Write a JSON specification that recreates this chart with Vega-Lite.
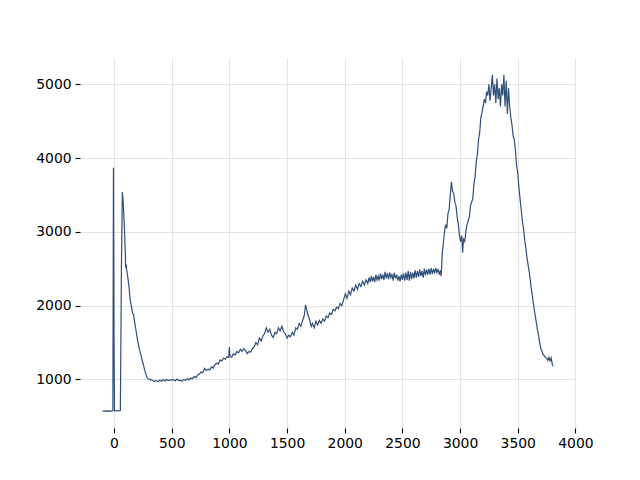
{
  "$schema": "https://vega.github.io/schema/vega-lite/v6.json",
  "autosize": "none",
  "width": 496,
  "height": 370,
  "padding": {"left": 80, "top": 58, "right": 64, "bottom": 52},
  "background": "white",
  "config": {
    "view": {"stroke": null},
    "axis": {
      "domain": false,
      "grid": true,
      "gridColor": "#e3e3e3",
      "gridWidth": 1.1,
      "tickColor": "#000000",
      "tickSize": 4.9,
      "tickWidth": 1.1,
      "labelFont": "DejaVu Sans",
      "labelFontSize": 13.9,
      "labelColor": "#000000",
      "labelPadding": 4,
      "labelFlush": false,
      "labelOverlap": false,
      "title": null
    }
  },
  "data": {"values": [
    {"x": -100, "y": 572}, {"x": -60, "y": 573}, {"x": -20, "y": 572}, {"x": -10, "y": 578},
    {"x": -5, "y": 3870}, {"x": 0, "y": 1500}, {"x": 4, "y": 578}, {"x": 30, "y": 575}, {"x": 55, "y": 580},
    {"x": 64, "y": 2500}, {"x": 72, "y": 3540}, {"x": 80, "y": 3400}, {"x": 90, "y": 3050}, {"x": 98, "y": 2700},
    {"x": 101, "y": 2514}, {"x": 105, "y": 2560}, {"x": 110, "y": 2480}, {"x": 120, "y": 2380}, {"x": 130, "y": 2250},
    {"x": 140, "y": 2080}, {"x": 150, "y": 2000}, {"x": 160, "y": 1900}, {"x": 170, "y": 1880}, {"x": 176, "y": 1800},
    {"x": 185, "y": 1720}, {"x": 195, "y": 1620}, {"x": 205, "y": 1520}, {"x": 215, "y": 1450}, {"x": 225, "y": 1380},
    {"x": 235, "y": 1320}, {"x": 245, "y": 1250}, {"x": 255, "y": 1200}, {"x": 265, "y": 1130}, {"x": 275, "y": 1080},
    {"x": 285, "y": 1030}, {"x": 295, "y": 1010}, {"x": 305, "y": 1005}, {"x": 320, "y": 995}, {"x": 335, "y": 985},
    {"x": 350, "y": 975}, {"x": 365, "y": 985}, {"x": 380, "y": 968}, {"x": 395, "y": 990}, {"x": 410, "y": 975},
    {"x": 425, "y": 995}, {"x": 440, "y": 980}, {"x": 455, "y": 1000}, {"x": 470, "y": 985}, {"x": 485, "y": 995},
    {"x": 500, "y": 990}, {"x": 515, "y": 1000}, {"x": 530, "y": 980}, {"x": 545, "y": 1005}, {"x": 560, "y": 985},
    {"x": 575, "y": 990}, {"x": 590, "y": 975}, {"x": 605, "y": 1000}, {"x": 620, "y": 990}, {"x": 635, "y": 1010},
    {"x": 650, "y": 995}, {"x": 665, "y": 1020}, {"x": 680, "y": 1010}, {"x": 695, "y": 1040}, {"x": 710, "y": 1025},
    {"x": 725, "y": 1060}, {"x": 740, "y": 1075}, {"x": 755, "y": 1100}, {"x": 770, "y": 1090}, {"x": 785, "y": 1150},
    {"x": 800, "y": 1120}, {"x": 815, "y": 1140}, {"x": 830, "y": 1130}, {"x": 845, "y": 1170}, {"x": 860, "y": 1155},
    {"x": 875, "y": 1200}, {"x": 890, "y": 1220}, {"x": 905, "y": 1210}, {"x": 920, "y": 1265}, {"x": 935, "y": 1250},
    {"x": 950, "y": 1290}, {"x": 965, "y": 1275}, {"x": 980, "y": 1310}, {"x": 995, "y": 1300}, {"x": 1000, "y": 1440},
    {"x": 1005, "y": 1320}, {"x": 1020, "y": 1300}, {"x": 1035, "y": 1350}, {"x": 1050, "y": 1330}, {"x": 1065, "y": 1380},
    {"x": 1080, "y": 1360}, {"x": 1095, "y": 1410}, {"x": 1110, "y": 1380}, {"x": 1125, "y": 1420}, {"x": 1140, "y": 1390},
    {"x": 1155, "y": 1350}, {"x": 1170, "y": 1380}, {"x": 1185, "y": 1370}, {"x": 1200, "y": 1420}, {"x": 1215, "y": 1440},
    {"x": 1230, "y": 1500}, {"x": 1245, "y": 1470}, {"x": 1260, "y": 1560}, {"x": 1275, "y": 1520}, {"x": 1290, "y": 1590},
    {"x": 1305, "y": 1620}, {"x": 1320, "y": 1700}, {"x": 1335, "y": 1640}, {"x": 1350, "y": 1680}, {"x": 1365, "y": 1600},
    {"x": 1380, "y": 1570}, {"x": 1395, "y": 1640}, {"x": 1410, "y": 1620}, {"x": 1425, "y": 1700}, {"x": 1440, "y": 1660},
    {"x": 1455, "y": 1720}, {"x": 1470, "y": 1650}, {"x": 1485, "y": 1620}, {"x": 1500, "y": 1560}, {"x": 1515, "y": 1600},
    {"x": 1530, "y": 1580}, {"x": 1545, "y": 1640}, {"x": 1560, "y": 1600}, {"x": 1575, "y": 1700}, {"x": 1590, "y": 1680},
    {"x": 1605, "y": 1760}, {"x": 1620, "y": 1720}, {"x": 1635, "y": 1800}, {"x": 1650, "y": 1870}, {"x": 1660, "y": 2010},
    {"x": 1670, "y": 1950}, {"x": 1680, "y": 1880}, {"x": 1690, "y": 1840}, {"x": 1700, "y": 1780}, {"x": 1710, "y": 1720},
    {"x": 1720, "y": 1760}, {"x": 1735, "y": 1700}, {"x": 1750, "y": 1790}, {"x": 1765, "y": 1740}, {"x": 1780, "y": 1800},
    {"x": 1795, "y": 1760}, {"x": 1810, "y": 1820}, {"x": 1825, "y": 1790}, {"x": 1840, "y": 1860}, {"x": 1855, "y": 1840},
    {"x": 1870, "y": 1900}, {"x": 1885, "y": 1880}, {"x": 1900, "y": 1950}, {"x": 1915, "y": 1930}, {"x": 1930, "y": 1980},
    {"x": 1945, "y": 1960}, {"x": 1960, "y": 2030}, {"x": 1975, "y": 2000}, {"x": 1990, "y": 2080}, {"x": 2005, "y": 2160},
    {"x": 2020, "y": 2100}, {"x": 2035, "y": 2200}, {"x": 2050, "y": 2150}, {"x": 2065, "y": 2240}, {"x": 2080, "y": 2200},
    {"x": 2095, "y": 2280}, {"x": 2110, "y": 2220}, {"x": 2125, "y": 2300}, {"x": 2140, "y": 2260}, {"x": 2155, "y": 2330},
    {"x": 2170, "y": 2280}, {"x": 2185, "y": 2350}, {"x": 2200, "y": 2300}, {"x": 2210, "y": 2380}, {"x": 2220, "y": 2320},
    {"x": 2230, "y": 2400}, {"x": 2240, "y": 2330}, {"x": 2250, "y": 2390}, {"x": 2260, "y": 2320}, {"x": 2270, "y": 2420},
    {"x": 2280, "y": 2350}, {"x": 2290, "y": 2400}, {"x": 2300, "y": 2340}, {"x": 2310, "y": 2440}, {"x": 2320, "y": 2360},
    {"x": 2330, "y": 2420}, {"x": 2340, "y": 2350}, {"x": 2350, "y": 2460}, {"x": 2360, "y": 2370}, {"x": 2370, "y": 2440},
    {"x": 2380, "y": 2360}, {"x": 2390, "y": 2450}, {"x": 2400, "y": 2380}, {"x": 2410, "y": 2430}, {"x": 2420, "y": 2340},
    {"x": 2430, "y": 2450}, {"x": 2440, "y": 2370}, {"x": 2450, "y": 2420}, {"x": 2460, "y": 2340}, {"x": 2470, "y": 2400},
    {"x": 2480, "y": 2330}, {"x": 2490, "y": 2420}, {"x": 2500, "y": 2350}, {"x": 2510, "y": 2440}, {"x": 2520, "y": 2340},
    {"x": 2530, "y": 2450}, {"x": 2540, "y": 2350}, {"x": 2550, "y": 2470}, {"x": 2560, "y": 2340}, {"x": 2570, "y": 2460},
    {"x": 2580, "y": 2360}, {"x": 2590, "y": 2450}, {"x": 2600, "y": 2370}, {"x": 2610, "y": 2480}, {"x": 2620, "y": 2380},
    {"x": 2630, "y": 2470}, {"x": 2640, "y": 2390}, {"x": 2650, "y": 2490}, {"x": 2660, "y": 2400}, {"x": 2670, "y": 2470},
    {"x": 2680, "y": 2380}, {"x": 2690, "y": 2500}, {"x": 2700, "y": 2410}, {"x": 2710, "y": 2490}, {"x": 2720, "y": 2420},
    {"x": 2730, "y": 2500}, {"x": 2740, "y": 2420}, {"x": 2750, "y": 2510}, {"x": 2760, "y": 2430}, {"x": 2770, "y": 2500},
    {"x": 2780, "y": 2440}, {"x": 2790, "y": 2510}, {"x": 2800, "y": 2450}, {"x": 2810, "y": 2500}, {"x": 2820, "y": 2420},
    {"x": 2830, "y": 2480}, {"x": 2835, "y": 2400},
    {"x": 2840, "y": 2520}, {"x": 2845, "y": 2700}, {"x": 2855, "y": 2850}, {"x": 2865, "y": 3000}, {"x": 2875, "y": 3100},
    {"x": 2885, "y": 3050}, {"x": 2895, "y": 3250}, {"x": 2905, "y": 3300}, {"x": 2915, "y": 3500}, {"x": 2925, "y": 3680},
    {"x": 2935, "y": 3550}, {"x": 2945, "y": 3520}, {"x": 2955, "y": 3400}, {"x": 2965, "y": 3350}, {"x": 2975, "y": 3200},
    {"x": 2985, "y": 3100}, {"x": 2995, "y": 2950}, {"x": 3005, "y": 2870}, {"x": 3015, "y": 2950}, {"x": 3022, "y": 2720},
    {"x": 3030, "y": 2900}, {"x": 3040, "y": 2870}, {"x": 3050, "y": 3000}, {"x": 3060, "y": 3100}, {"x": 3070, "y": 3150},
    {"x": 3080, "y": 3200}, {"x": 3090, "y": 3350}, {"x": 3100, "y": 3400}, {"x": 3110, "y": 3450}, {"x": 3120, "y": 3650},
    {"x": 3130, "y": 3750}, {"x": 3140, "y": 3950}, {"x": 3150, "y": 4050}, {"x": 3160, "y": 4250}, {"x": 3170, "y": 4350},
    {"x": 3180, "y": 4550}, {"x": 3190, "y": 4620}, {"x": 3200, "y": 4700}, {"x": 3210, "y": 4800}, {"x": 3220, "y": 4750},
    {"x": 3230, "y": 4900}, {"x": 3240, "y": 4850}, {"x": 3250, "y": 5000}, {"x": 3260, "y": 4780}, {"x": 3270, "y": 4950},
    {"x": 3280, "y": 5130}, {"x": 3290, "y": 4850}, {"x": 3300, "y": 5000}, {"x": 3310, "y": 4750}, {"x": 3320, "y": 5080},
    {"x": 3330, "y": 4800}, {"x": 3340, "y": 4950}, {"x": 3350, "y": 4700}, {"x": 3360, "y": 5000}, {"x": 3370, "y": 4850},
    {"x": 3380, "y": 5130}, {"x": 3390, "y": 4700}, {"x": 3400, "y": 5050}, {"x": 3410, "y": 4600}, {"x": 3420, "y": 4950},
    {"x": 3430, "y": 4700}, {"x": 3440, "y": 4550}, {"x": 3450, "y": 4450}, {"x": 3460, "y": 4300}, {"x": 3470, "y": 4250},
    {"x": 3480, "y": 4100}, {"x": 3490, "y": 3900}, {"x": 3500, "y": 3800}, {"x": 3510, "y": 3600}, {"x": 3520, "y": 3450},
    {"x": 3530, "y": 3300}, {"x": 3540, "y": 3150}, {"x": 3550, "y": 3050}, {"x": 3560, "y": 2900}, {"x": 3570, "y": 2780},
    {"x": 3580, "y": 2650}, {"x": 3590, "y": 2550}, {"x": 3600, "y": 2450}, {"x": 3610, "y": 2330}, {"x": 3620, "y": 2200},
    {"x": 3630, "y": 2100}, {"x": 3640, "y": 1980}, {"x": 3650, "y": 1880}, {"x": 3660, "y": 1780}, {"x": 3670, "y": 1680},
    {"x": 3680, "y": 1600}, {"x": 3690, "y": 1500}, {"x": 3700, "y": 1420}, {"x": 3710, "y": 1380}, {"x": 3720, "y": 1340},
    {"x": 3730, "y": 1320}, {"x": 3740, "y": 1300}, {"x": 3750, "y": 1290}, {"x": 3760, "y": 1260}, {"x": 3770, "y": 1300},
    {"x": 3780, "y": 1250}, {"x": 3790, "y": 1290}, {"x": 3800, "y": 1200}, {"x": 3808, "y": 1180}
  ]},
  "mark": {"type": "line", "color": "#30507a", "strokeWidth": 1.2, "interpolate": "linear"},
  "encoding": {
    "x": {"field": "x", "type": "quantitative", "sort": null,
          "scale": {"domain": [-295, 4005], "nice": false, "zero": false},
          "axis": {"values": [0, 500, 1000, 1500, 2000, 2500, 3000, 3500, 4000], "format": "d"}},
    "y": {"field": "y", "type": "quantitative",
          "scale": {"domain": [342, 5358], "nice": false, "zero": false},
          "axis": {"values": [1000, 2000, 3000, 4000, 5000], "format": "d"}}
  }
}
